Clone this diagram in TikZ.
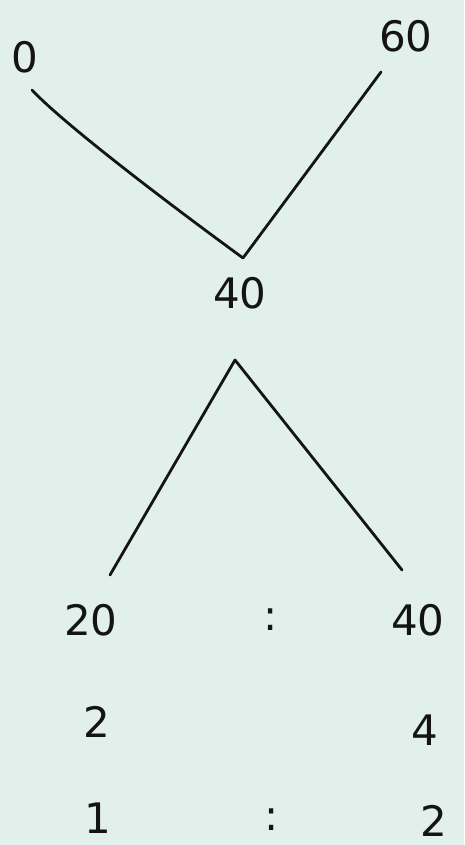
\documentclass[tikz,border=0pt]{standalone}
\usepackage{fontspec}
\setmainfont{DejaVu Sans}
\definecolor{paper}{RGB}{226,240,235}
\definecolor{ink}{RGB}{20,20,20}
\begin{document}
\begin{tikzpicture}[x=1pt,y=-1pt,
  num/.style={inner sep=0pt,font=\fontsize{42}{42}\selectfont, text=ink},
  stroke/.style={draw=ink,line width=2.8pt,line cap=round,line join=round}]
\fill[paper] (0,0) rectangle (464,845);
\useasboundingbox (0,0) rectangle (464,845);
% numbers
\node[num] (n0)  at (25,57)  {0};
\node[num] (n60) at (406,36) {60};
\node[num] (n40) at (240,293) {40};
\node[num] (l20) at (91,620) {20};
\node[num] (c1)  at (271,620) {:};
\node[num] (r40) at (418,620) {40};
\node[num] (l2)  at (97,722) {2};
\node[num] (r4)  at (425,730) {4};
\node[num] (l1)  at (98,818) {1};
\node[num] (c2)  at (272,820) {:};
\node[num] (r2)  at (434,821) {2};
% connectors
\coordinate (a) at (32,90);
\coordinate (v) at (243,258);
\coordinate (b) at (381,72);
\coordinate (apex) at (235,360);
\coordinate (dl) at (110,575);
\coordinate (dr) at (402,570);
\draw[stroke] (a) .. controls (60,120) and (150,190) .. (v) -- (b);
\draw[stroke] (dl) -- (apex) -- (dr);
\end{tikzpicture}
\end{document}
